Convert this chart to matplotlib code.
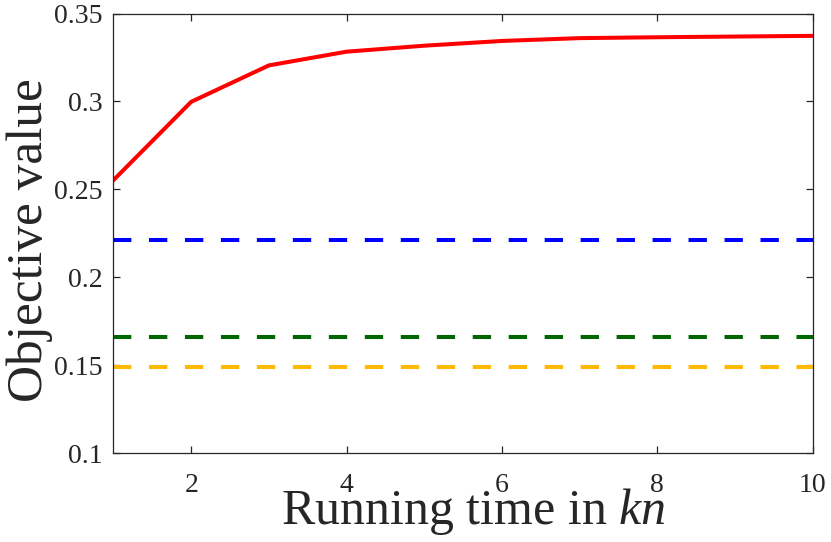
import matplotlib
matplotlib.use("Agg")
import matplotlib.pyplot as plt
import numpy as np

x = [1, 2, 3, 4, 5, 6, 7, 8, 9, 10]
proposed = [0.2553, 0.2998, 0.3205, 0.3283, 0.3317, 0.3344, 0.3360, 0.3365, 0.3369, 0.3373]
baseline_blue = 0.2213
baseline_green = 0.1660
baseline_orange = 0.1489

xticks = [2, 4, 6, 8, 10]
yticks = [0.1, 0.15, 0.2, 0.25, 0.3, 0.35]
ytick_labels = ["0.1", "0.15", "0.2", "0.25", "0.3", "0.35"]

plt.rcParams['font.family'] = ['Liberation Serif', 'DejaVu Serif']
plt.rcParams['mathtext.fontset'] = 'custom'
plt.rcParams['mathtext.it'] = 'Liberation Serif:italic'
plt.rcParams['mathtext.rm'] = 'Liberation Serif'

fig = plt.figure(figsize=(8.31, 5.42), dpi=100)
ax = fig.add_axes([113.5/831, 1-453.3/542, (812.7-113.5)/831, (453.3-13.5)/542])

lw = 2.9
dash = (13.2/lw, 12.7/lw)
xs = np.array(x)
ax.plot(xs, [baseline_blue]*len(xs), color=(0, 0, 1), lw=lw, dashes=dash, dash_capstyle='butt')
ax.plot(xs, [baseline_green]*len(xs), color=(0, 0.4, 0), lw=lw, dashes=dash, dash_capstyle='butt')
ax.plot(xs, [baseline_orange]*len(xs), color=(1, 0.73, 0), lw=lw, dashes=dash, dash_capstyle='butt')
ax.plot(x, proposed, color=(1, 0, 0), lw=lw, solid_joinstyle='round')

ax.set_xlim(1, 10)
ax.set_ylim(0.1, 0.35)
ax.set_xticks(xticks)
ax.set_yticks(yticks)
ax.set_yticklabels(ytick_labels)

for s in ax.spines.values():
    s.set_color((0.15, 0.15, 0.15))
    s.set_linewidth(0.9)
ax.tick_params(direction='in', length=5, width=0.9, colors=(0.15, 0.15, 0.15),
               labelcolor=(0.15, 0.15, 0.15), labelsize=20, top=True, right=True)
ax.tick_params(axis='x', pad=14)
ax.tick_params(axis='y', pad=8)

ax.set_xlabel(r"Running time in $kn$", fontsize=36, color=(0.15, 0.15, 0.15))
ax.set_ylabel("Objective value", fontsize=37, color=(0.15, 0.15, 0.15))
ax.xaxis.set_label_coords(473/831, 1-486/542, transform=fig.transFigure)
ax.yaxis.set_label_coords(53/831, 1-240/542, transform=fig.transFigure)

fig.savefig("out.png", dpi=100)
